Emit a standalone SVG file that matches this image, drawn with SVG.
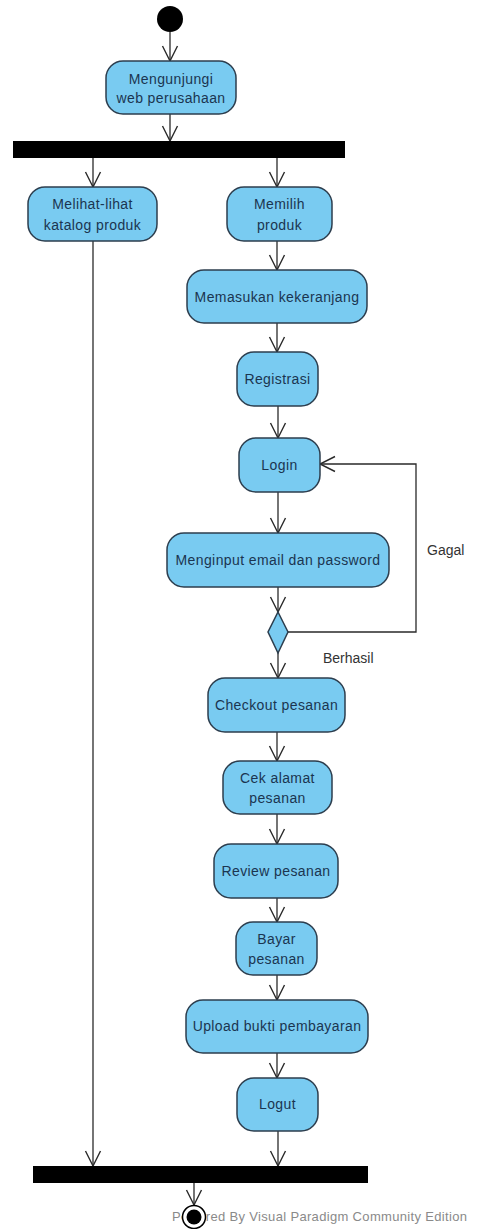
<svg xmlns="http://www.w3.org/2000/svg" width="477" height="1229" viewBox="0 0 477 1229">
<style>
.n{fill:#79CBF1;stroke:#2d3e4e;stroke-width:1.5}
.t{font-family:"Liberation Sans",Arial,sans-serif;font-size:14px;fill:#1b3550;text-anchor:middle;letter-spacing:0.4px}
.l{font-family:"Liberation Sans",Arial,sans-serif;font-size:14px;fill:#333}
.c{fill:none;stroke:#2a2a2a;stroke-width:1.3}
.bar{fill:#000}
</style>
<defs>
<marker id="a" markerUnits="userSpaceOnUse" markerWidth="20" markerHeight="20" viewBox="-17 -10 20 20" refX="0" refY="0" orient="auto">
<path d="M-15,-7.5 L0,0 L-15,7.5" fill="none" stroke="#2a2a2a" stroke-width="1.4"/>
</marker>
</defs>
<rect width="477" height="1229" fill="#fff"/>
<text class="l" x="172" y="1221" fill="#8a8a8a" style="fill:#8a8a8a;font-size:13px" textLength="295">Powered By  Visual Paradigm Community Edition</text>
<g id="connectors">
<path class="c" d="M170,32 V61" marker-end="url(#a)"/>
<path class="c" d="M170,114 V141" marker-end="url(#a)"/>
<path class="c" d="M93,158 V187" marker-end="url(#a)"/>
<path class="c" d="M277,158 V187" marker-end="url(#a)"/>
<path class="c" d="M93,241 V1166" marker-end="url(#a)"/>
<path class="c" d="M277,241 V270" marker-end="url(#a)"/>
<path class="c" d="M277,323 V352" marker-end="url(#a)"/>
<path class="c" d="M278,406 V438" marker-end="url(#a)"/>
<path class="c" d="M278,492 V533" marker-end="url(#a)"/>
<path class="c" d="M278,587 V612" marker-end="url(#a)"/>
<path class="c" d="M278,653 V678" marker-end="url(#a)"/>
<path class="c" d="M288,632 H416 V464 H320" marker-end="url(#a)"/>
<path class="c" d="M277,732 V761" marker-end="url(#a)"/>
<path class="c" d="M277,814 V844" marker-end="url(#a)"/>
<path class="c" d="M277,898 V922" marker-end="url(#a)"/>
<path class="c" d="M277,975 V1000" marker-end="url(#a)"/>
<path class="c" d="M277,1053 V1078" marker-end="url(#a)"/>
<path class="c" d="M278,1131 V1166" marker-end="url(#a)"/>
<path class="c" d="M194,1183 V1205" marker-end="url(#a)"/>
<text class="l" x="427" y="555">Gagal</text>
<text class="l" x="323" y="663">Berhasil</text>
</g>
<g id="start"><circle cx="170" cy="19" r="13" fill="#000"/></g>
<g id="n1"><rect class="n" x="106" y="61" width="130" height="53" rx="17"/><text class="t" x="171" y="84">Mengunjungi</text><text class="t" x="171" y="103">web perusahaan</text></g>
<g id="fork"><rect class="bar" x="13" y="141" width="332" height="17"/></g>
<g id="n2"><rect class="n" x="28" y="187" width="129" height="54" rx="17"/><text class="t" x="92.5" y="209">Melihat-lihat</text><text class="t" x="92.5" y="230">katalog produk</text></g>
<g id="n3"><rect class="n" x="227" y="187" width="105" height="54" rx="17"/><text class="t" x="279.5" y="209">Memilih</text><text class="t" x="279.5" y="230">produk</text></g>
<g id="n4"><rect class="n" x="187" y="270" width="180" height="53" rx="17"/><text class="t" x="277" y="302">Memasukan kekeranjang</text></g>
<g id="n5"><rect class="n" x="237" y="352" width="81" height="54" rx="17"/><text class="t" x="277.5" y="384">Registrasi</text></g>
<g id="n6"><rect class="n" x="239" y="438" width="81" height="54" rx="17"/><text class="t" x="279.5" y="470">Login</text></g>
<g id="n7"><rect class="n" x="167" y="533" width="222" height="54" rx="17"/><text class="t" x="278" y="565">Menginput email dan password</text></g>
<g id="decision"><polygon class="n" points="278,612 288,632 278,653 268,632"/></g>
<g id="n8"><rect class="n" x="208" y="678" width="137" height="54" rx="17"/><text class="t" x="276.5" y="710">Checkout pesanan</text></g>
<g id="n9"><rect class="n" x="223" y="761" width="109" height="53" rx="17"/><text class="t" x="277.5" y="783">Cek alamat</text><text class="t" x="277.5" y="803">pesanan</text></g>
<g id="n10"><rect class="n" x="214" y="844" width="124" height="54" rx="17"/><text class="t" x="276" y="876">Review pesanan</text></g>
<g id="n11"><rect class="n" x="236" y="922" width="81" height="53" rx="17"/><text class="t" x="276.5" y="944">Bayar</text><text class="t" x="276.5" y="964">pesanan</text></g>
<g id="n12"><rect class="n" x="186" y="1000" width="182" height="53" rx="17"/><text class="t" x="277" y="1031">Upload bukti pembayaran</text></g>
<g id="n13"><rect class="n" x="237" y="1078" width="81" height="53" rx="17"/><text class="t" x="277.5" y="1109">Logut</text></g>
<g id="join"><rect class="bar" x="33" y="1166" width="335" height="17"/></g>
<g id="end"><circle cx="194" cy="1217" r="11.5" fill="#fff" stroke="#000" stroke-width="1.5"/><circle cx="194" cy="1217" r="7.5" fill="#000"/></g>
</svg>
